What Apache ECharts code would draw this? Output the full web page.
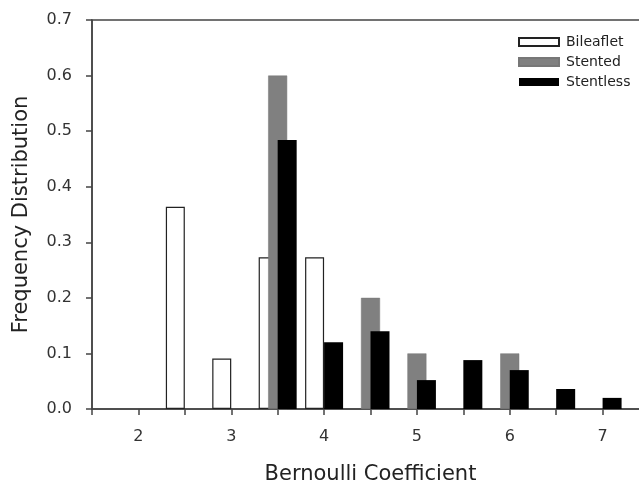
<!DOCTYPE html>
<html>
<head>
<meta charset="utf-8">
<script src="https://cdn.jsdelivr.net/npm/echarts@6/dist/echarts.min.js"></script>
<style>html,body{margin:0;padding:0;background:#fff}#c{width:639px;height:483px}</style>
</head>
<body>
<div id="c"></div>
<script>
const bins = [2.5, 3, 3.5, 4, 4.5, 5, 5.5, 6, 6.5, 7];
const bileaflet = [0.364, 0.091, 0.273, 0.273, null, null, null, null, null, null];
const stented = [null, null, 0.6, null, 0.2, 0.1, null, 0.1, null, null];
const stentless = [null, null, 0.484, 0.12, 0.14, 0.052, 0.088, 0.07, 0.036, 0.02];
const seriesNames = ['Bileaflet', 'Stented', 'Stentless'];
const xTitle = 'Bernoulli Coefficient';
const yTitle = 'Frequency Distribution';

function pairs(vals) { return bins.map((b, i) => [b, vals[i]]); }

const chart = echarts.init(document.getElementById('c'), null, {renderer: 'canvas'});
const font = 'DejaVu Sans, sans-serif';
chart.setOption({
  animation: false,
  backgroundColor: '#fff',
  grid: {left: 92, top: 20, height: 389, width: 557, outerBoundsMode: 'none', containLabel: false,
    show: true, borderColor: '#444', borderWidth: 1.5, backgroundColor: 'transparent'},
  legend: {
    orient: 'vertical', left: 513, top: 30, itemWidth: 40, itemHeight: 8, itemGap: 6,
    icon: 'rect',
    textStyle: {fontFamily: font, fontSize: 14, color: '#222', padding: [0, 0, 0, 2]},
    data: seriesNames
  },
  xAxis: {
    type: 'value', min: 1.5, max: 7.5, interval: 0.5,
    name: xTitle, nameLocation: 'middle', nameGap: 55,
    nameTextStyle: {fontFamily: font, fontSize: 21, color: '#222'},
    axisLine: {lineStyle: {color: '#444', width: 1.5}},
    axisTick: {show: true, length: 6, lineStyle: {color: '#444', width: 1.5}},
    axisLabel: {fontFamily: font, fontSize: 16, color: '#333', margin: 20,
      formatter: v => Number.isInteger(v) ? String(v) : ''},
    splitLine: {show: false}
  },
  yAxis: {
    type: 'value', min: 0, max: 0.7, interval: 0.1,
    name: yTitle, nameLocation: 'middle', nameGap: 60,
    nameTextStyle: {fontFamily: font, fontSize: 21, color: '#222'},
    axisLine: {show: true, lineStyle: {color: '#444', width: 1.5}},
    axisTick: {show: true, length: 6, lineStyle: {color: '#444', width: 1.5}},
    axisLabel: {fontFamily: font, fontSize: 16, color: '#333', margin: 20,
      formatter: v => v.toFixed(1)},
    splitLine: {show: false}
  },
  series: [
    {name: seriesNames[0], type: 'bar', data: pairs(bileaflet), barWidth: 19, barGap: '-50%',
      itemStyle: {color: '#fff', borderColor: '#222', borderWidth: 1.2}},
    {name: seriesNames[1], type: 'bar', data: pairs(stented), barWidth: 19, barGap: '-50%',
      itemStyle: {color: '#808080', borderColor: '#777', borderWidth: 0.5}},
    {name: seriesNames[2], type: 'bar', data: pairs(stentless), barWidth: 19, barGap: '-50%',
      itemStyle: {color: '#000'}}
  ]
});
</script>
</body>
</html>
